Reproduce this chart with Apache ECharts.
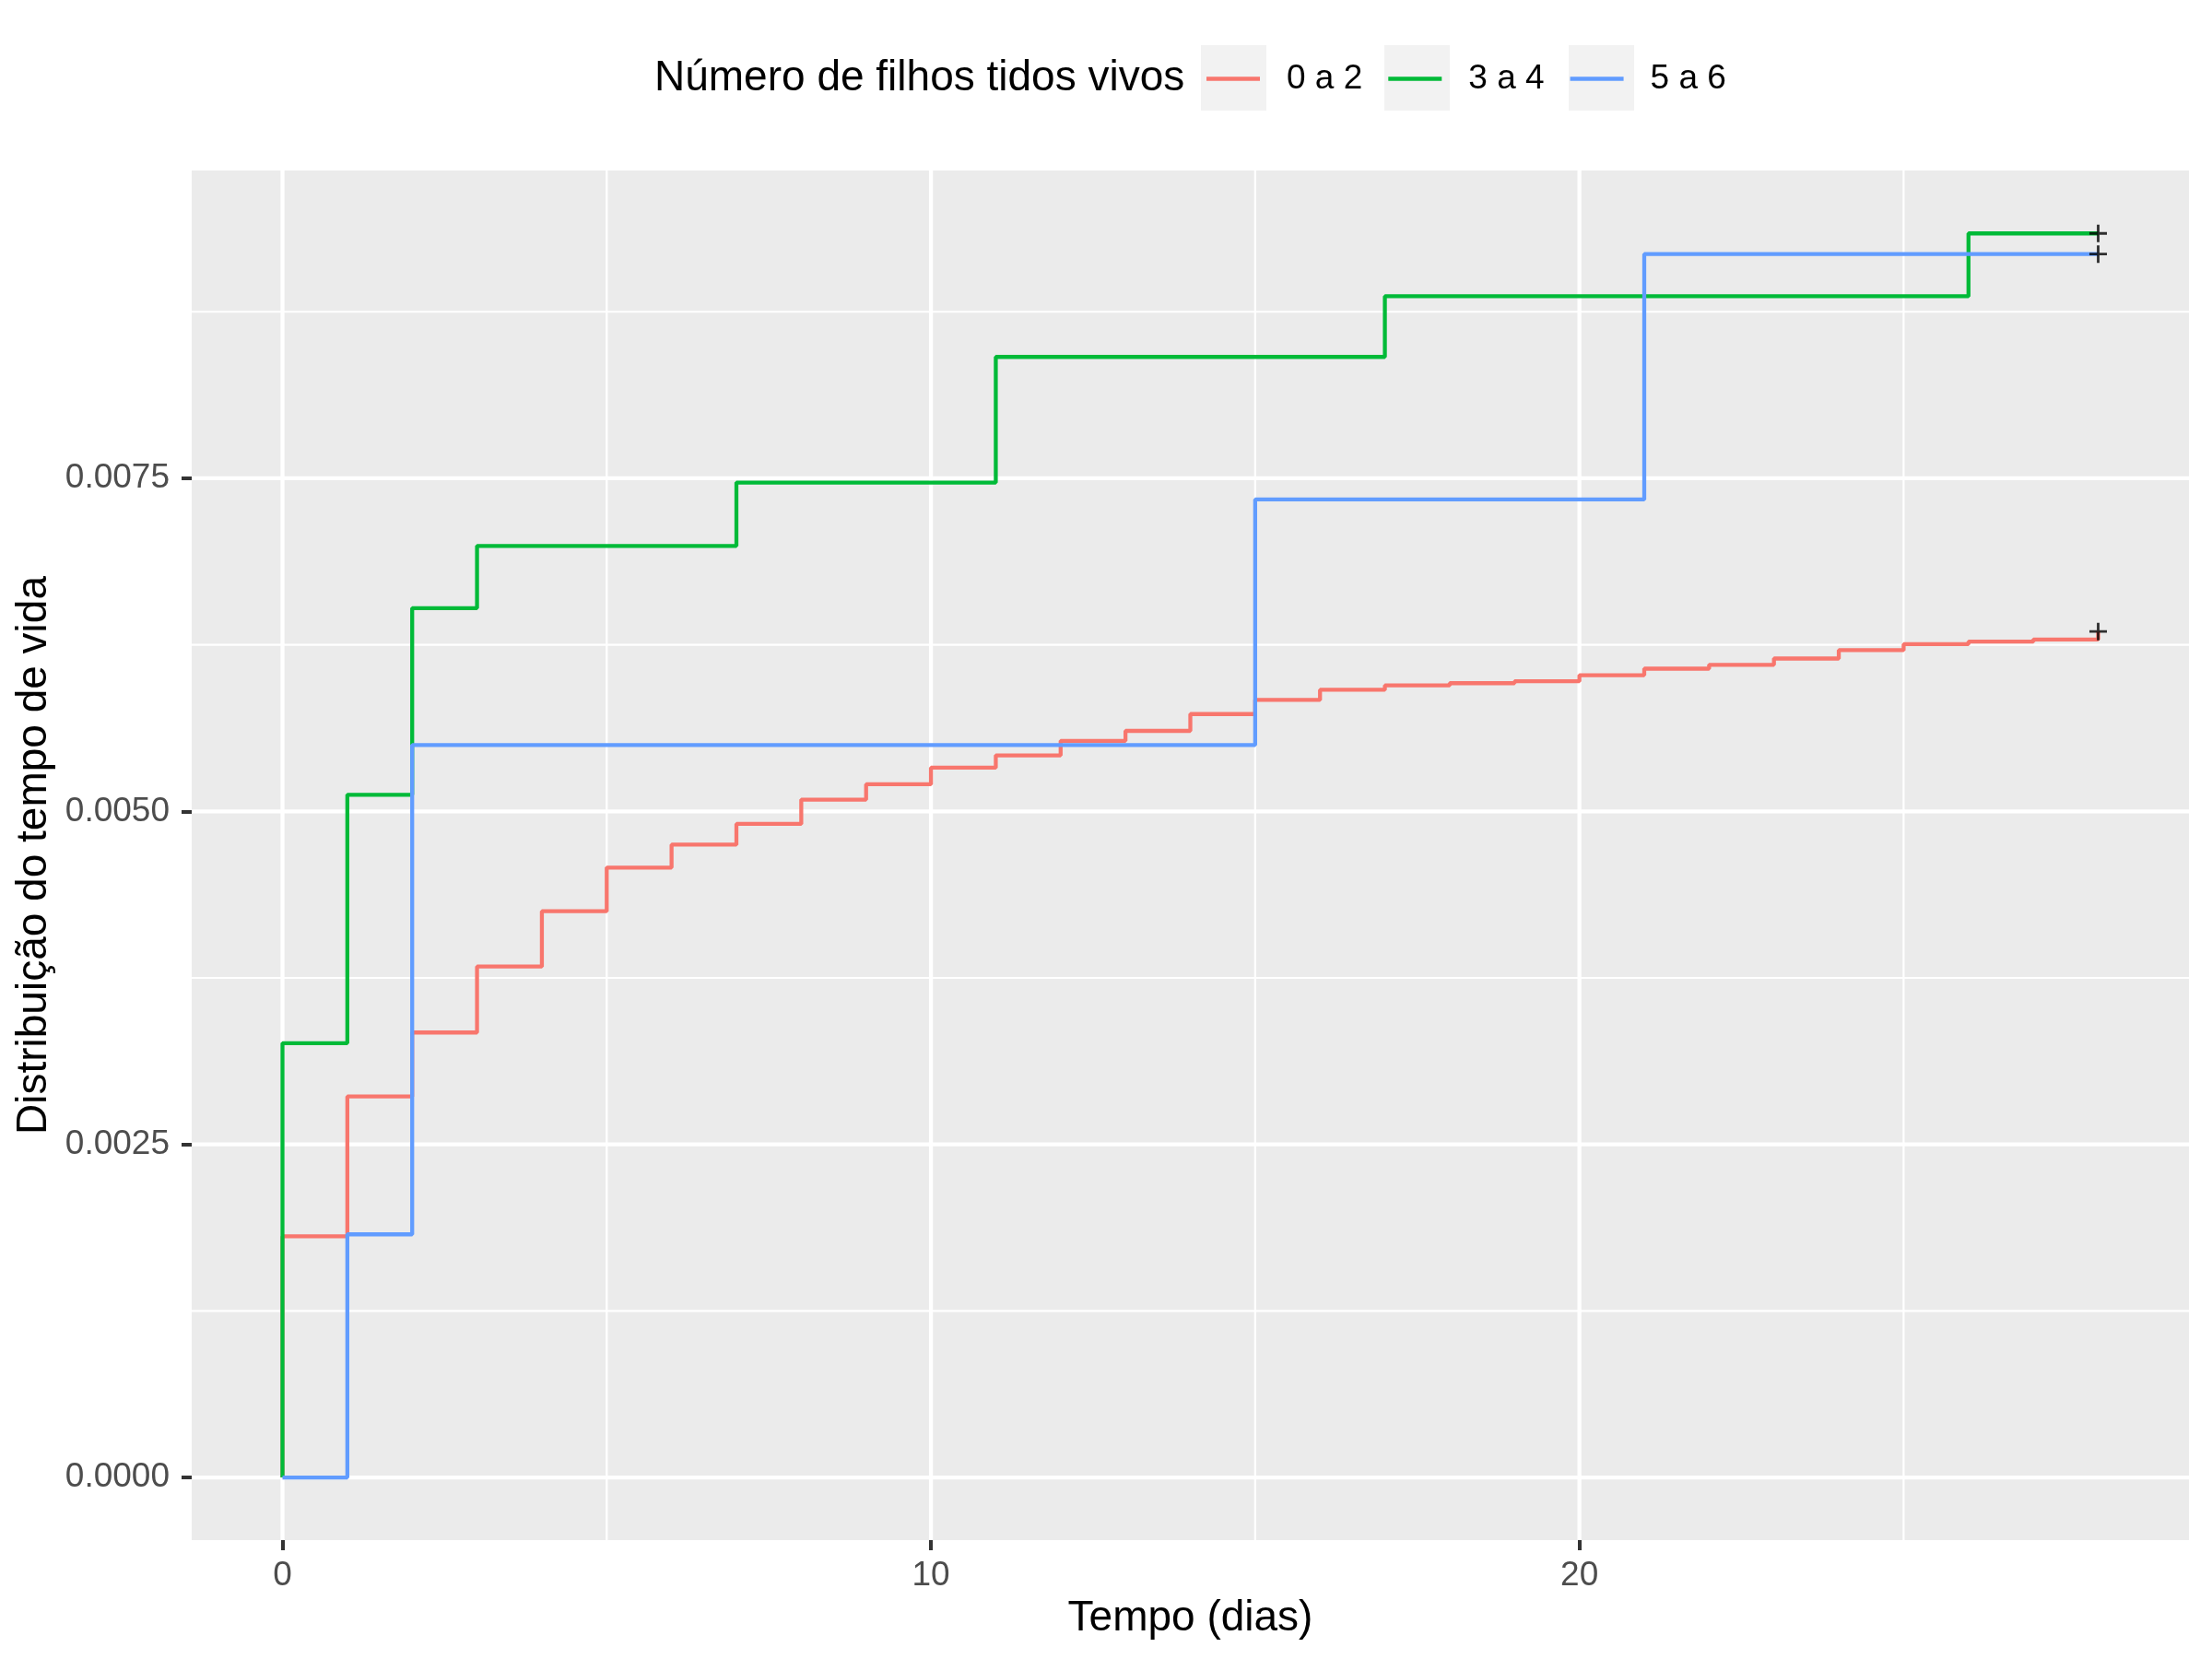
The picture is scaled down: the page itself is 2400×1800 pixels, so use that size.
<!DOCTYPE html>
<html>
<head>
<meta charset="utf-8">
<script src="https://cdn.jsdelivr.net/npm/echarts@6/dist/echarts.min.js"></script>
<style>
html, body { margin: 0; padding: 0; background: #fff; }
#chart { width: 2400px; height: 1800px; }
</style>
</head>
<body>
<div id="chart"></div>
<script>
// dados (distribuição acumulada por grupo)
var groups = ['0 a 2', '3 a 4', '5 a 6'];
var colors = ['#F8766D', '#00BA38', '#619CFF'];

var timeRed = [0, 0, 1, 2, 3, 4, 5, 6, 7, 8, 9, 10, 11, 12, 13, 14, 15, 16, 17, 18, 19, 20, 21, 22, 23, 24, 25, 26, 27, 28];
var valRed = [0, 0.00181, 0.00286, 0.00334, 0.003835, 0.00425, 0.004578, 0.00475, 0.004906, 0.005088,
    0.005203, 0.005328, 0.00542, 0.005529, 0.005604, 0.00573, 0.005836, 0.005912, 0.005945, 0.005962,
    0.005976, 0.006022, 0.006071, 0.0061, 0.006147, 0.00621, 0.006255, 0.006274, 0.00629, 0.00635];

var timeGreen = [0, 0, 1, 2, 3, 7, 11, 17, 26, 28];
var valGreen = [0, 0.00326, 0.005124, 0.006525, 0.006992, 0.007468, 0.008411, 0.008866, 0.009338, 0.009338];

var timeBlue = [0, 1, 2, 15, 21, 28];
var valBlue = [0, 0.001825, 0.005498, 0.007341, 0.009183, 0.009183];

// censuras (+) no fim de cada curva
var censorTime = [28, 28, 28];
var censorVal = [0.00635, 0.009338, 0.009183];

// eixos
var xMin = -1.4, xMax = 29.4;
var yMin = -0.00047, yMax = 0.00981;
var xTicks = [0, 10, 20];
var xMinor = [5, 15, 25];
var yTicks = [0, 0.0025, 0.005, 0.0075];
var yMinor = [0.00125, 0.00375, 0.00625, 0.00875];

function pairs(t, v) {
    var out = [];
    for (var i = 0; i < t.length; i++) {
        out.push([t[i], v[i]]);
    }
    return out;
}

// linhas de grade brancas, desenhadas como séries por baixo das curvas
function gridSeries(vals, vertical, width) {
    var out = [];
    for (var i = 0; i < vals.length; i++) {
        var d = vertical ? [[vals[i], yMin], [vals[i], yMax]] : [[xMin, vals[i]], [xMax, vals[i]]];
        out.push({
            type: 'line',
            data: d,
            z: 1,
            silent: true,
            symbol: 'none',
            lineStyle: { color: '#FFFFFF', width: width },
            emphasis: { disabled: true }
        });
    }
    return out;
}

var chart = echarts.init(document.getElementById('chart'));
var plus = 'path://M0,8.5H20V11.5H0Z M8.5,0H11.5V20H8.5Z';
var font = 'Liberation Sans, Arial, sans-serif';

var series = []
    .concat(gridSeries(xMinor, true, 2.2))
    .concat(gridSeries(yMinor, false, 2.2))
    .concat(gridSeries(xTicks, true, 4.3))
    .concat(gridSeries(yTicks, false, 4.3));

var lineData = [pairs(timeRed, valRed), pairs(timeGreen, valGreen), pairs(timeBlue, valBlue)];
for (var i = 0; i < groups.length; i++) {
    series.push({
        name: groups[i],
        type: 'line',
        step: 'end',
        symbol: 'none',
        z: 2,
        color: colors[i],
        lineStyle: { width: 4.3, color: colors[i] },
        data: lineData[i]
    });
}
for (var k = 0; k < groups.length; k++) {
    series.push({
        name: 'censura ' + groups[k],
        type: 'scatter',
        symbol: plus,
        symbolSize: 19,
        z: 3,
        itemStyle: { color: '#000000' },
        data: [[censorTime[k], censorVal[k]]]
    });
}

var option = {
    animation: false,
    backgroundColor: '#FFFFFF',
    textStyle: { fontFamily: font },
    grid: {
        left: 208,
        right: 25,
        top: 185,
        bottom: 129,
        show: true,
        backgroundColor: '#EBEBEB',
        borderWidth: 0
    },
    legend: {
        data: groups,
        left: 1309,
        top: 67,
        padding: 0,
        icon: 'rect',
        itemWidth: 58,
        itemHeight: 4.3,
        itemGap: 28,
        selectedMode: false,
        textStyle: {
            fontFamily: font,
            fontSize: 37,
            color: '#000000',
            padding: [0, 0, 0, 24]
        }
    },
    graphic: [
        { type: 'rect', left: 1303, top: 49, z: -1, shape: { width: 71, height: 71 }, style: { fill: '#F2F2F2' } },
        { type: 'rect', left: 1502, top: 49, z: -1, shape: { width: 71, height: 71 }, style: { fill: '#F2F2F2' } },
        { type: 'rect', left: 1702, top: 49, z: -1, shape: { width: 71, height: 71 }, style: { fill: '#F2F2F2' } },
        {
            type: 'text',
            left: 710,
            top: 62,
            style: { text: 'Número de filhos tidos vivos', font: '46px Liberation Sans, Arial, sans-serif', fill: '#000000' }
        }
    ],
    xAxis: {
        type: 'value',
        min: xMin,
        max: xMax,
        name: 'Tempo (dias)',
        nameLocation: 'middle',
        nameGap: 62,
        nameTextStyle: { fontSize: 46, color: '#000000', fontFamily: font },
        axisLine: { show: false, onZero: false },
        splitLine: { show: false },
        axisTick: {
            customValues: xTicks,
            length: 11,
            lineStyle: { color: '#333333', width: 4 }
        },
        axisLabel: {
            customValues: xTicks,
            margin: 20,
            fontSize: 37,
            color: '#4D4D4D',
            fontFamily: font
        }
    },
    yAxis: {
        type: 'value',
        min: yMin,
        max: yMax,
        name: 'Distribuição do tempo de vida',
        nameLocation: 'middle',
        nameGap: 135,
        nameTextStyle: { fontSize: 46, color: '#000000', fontFamily: font },
        axisLine: { show: false, onZero: false },
        splitLine: { show: false },
        axisTick: {
            customValues: yTicks,
            length: 11,
            lineStyle: { color: '#333333', width: 4 }
        },
        axisLabel: {
            customValues: yTicks,
            margin: 24,
            fontSize: 37,
            color: '#4D4D4D',
            fontFamily: font,
            formatter: function (v) { return v.toFixed(4); }
        }
    },
    series: series
};
chart.setOption(option);
</script>
</body>
</html>
